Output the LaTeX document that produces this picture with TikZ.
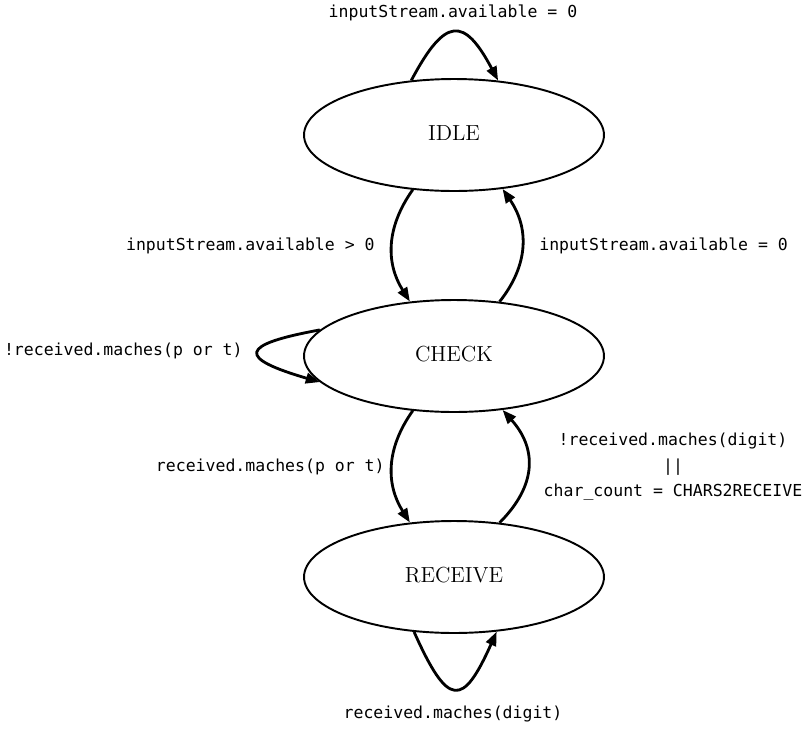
\documentclass[tikz,border=0pt]{standalone}
\usepackage{fontspec}
\newfontfamily\labelfont{DejaVu Sans Mono}
\usetikzlibrary{arrows.meta,shapes.geometric}

\begin{document}
\begin{tikzpicture}[x=0.02cm,y=-0.02cm,
  state/.style={draw,ellipse,line width=1.1pt,minimum width=6cm,minimum height=2.24cm,
    inner sep=0pt,font=\fontsize{12.4}{15}\selectfont},
  trans/.style={line width=1.6pt,-{Triangle[length=8pt,width=6pt]}},
  lbl/.style={font=\labelfont\fontsize{9.4}{14.5}\selectfont,inner sep=0pt}]
\useasboundingbox (0,0) rectangle (809,728);

% States
\node[state] (idle) at (454,135) {\raisebox{2pt}{IDLE}};
\node[state] (check) at (454,356) {\raisebox{2pt}{CHECK}};
\node[state] (receive) at (454,577) {\raisebox{2pt}{RECEIVE}};

% Transitions
\draw[trans] (idle.128) .. controls +(34,-64) and +(-34,-64) .. (idle.51);
\draw[trans] (idle.233) .. controls +(-27,38) and +(-24,-38) .. (check.129);
\draw[trans] (check.50) .. controls +(30,-38) and +(26,38) .. (idle.-48);
\draw[trans] (check.169) .. controls +(-82,15) and +(-82,-24) .. (check.191);
\draw[trans] (check.233) .. controls +(-27,38) and +(-24,-38) .. (receive.129);
\draw[trans] (receive.50) .. controls +(38,-38) and +(34,38) .. (check.-48);
\draw[trans] (receive.234) .. controls +(34,76) and +(-34,76) .. (receive.-52);

% Labels
\node[lbl] (lidle) at (453,13) {inputStream.available = 0};
\node[lbl,anchor=east] (lic) at (375,246) {inputStream.available > 0};
\node[lbl,anchor=west] (lci) at (539,246) {inputStream.available = 0};
\node[lbl,anchor=east] (lcc) at (243,351) {!received.maches(p or t)};
\node[lbl,anchor=east] (lcr) at (385,467) {received.maches(p or t)};
\node[lbl,align=center] (lrc) at (673,467) {!received.maches(digit)\\||\\char\_count = CHARS2RECEIVE};
\node[lbl] (lrr) at (453,714) {received.maches(digit)};
\end{tikzpicture}
\end{document}
